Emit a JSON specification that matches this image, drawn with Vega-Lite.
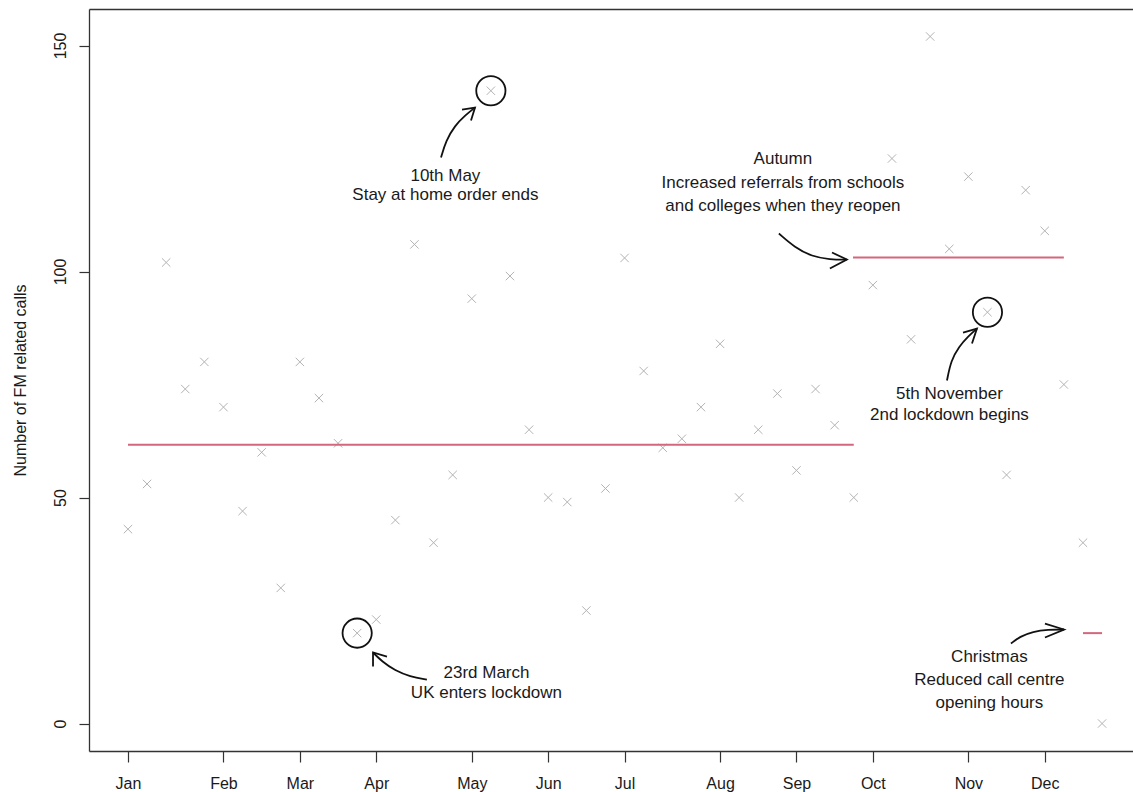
{
  "$schema": "https://vega.github.io/schema/vega-lite/v6.json",
  "width": 1044,
  "height": 742,
  "autosize": {"type": "none"},
  "padding": {"left": 89, "top": 9, "right": 0, "bottom": 41},
  "background": "white",
  "config": {
    "view": {"stroke": null},
    "font": "Liberation Sans",
    "text": {"font": "Liberation Sans"}
  },
  "resolve": {"axis": {"x": "independent"}},
  "datasets": {
    "calls": [
      {"w": 0, "calls": 43}, {"w": 1, "calls": 53}, {"w": 2, "calls": 102}, {"w": 3, "calls": 74},
      {"w": 4, "calls": 80}, {"w": 5, "calls": 70}, {"w": 6, "calls": 47}, {"w": 7, "calls": 60},
      {"w": 8, "calls": 30}, {"w": 9, "calls": 80}, {"w": 10, "calls": 72}, {"w": 11, "calls": 62},
      {"w": 12, "calls": 20}, {"w": 13, "calls": 23}, {"w": 14, "calls": 45}, {"w": 15, "calls": 106},
      {"w": 16, "calls": 40}, {"w": 17, "calls": 55}, {"w": 18, "calls": 94}, {"w": 19, "calls": 140},
      {"w": 20, "calls": 99}, {"w": 21, "calls": 65}, {"w": 22, "calls": 50}, {"w": 23, "calls": 49},
      {"w": 24, "calls": 25}, {"w": 25, "calls": 52}, {"w": 26, "calls": 103}, {"w": 27, "calls": 78},
      {"w": 28, "calls": 61}, {"w": 29, "calls": 63}, {"w": 30, "calls": 70}, {"w": 31, "calls": 84},
      {"w": 32, "calls": 50}, {"w": 33, "calls": 65}, {"w": 34, "calls": 73}, {"w": 35, "calls": 56},
      {"w": 36, "calls": 74}, {"w": 37, "calls": 66}, {"w": 38, "calls": 50}, {"w": 39, "calls": 97},
      {"w": 40, "calls": 125}, {"w": 41, "calls": 85}, {"w": 42, "calls": 152}, {"w": 43, "calls": 105},
      {"w": 44, "calls": 121}, {"w": 45, "calls": 91}, {"w": 46, "calls": 55}, {"w": 47, "calls": 118},
      {"w": 48, "calls": 109}, {"w": 49, "calls": 75}, {"w": 50, "calls": 40}, {"w": 51, "calls": 0}
    ],
    "segments": [
      {"w": 0, "w2": 38, "calls": 61.7},
      {"w": 37.96, "w2": 49, "calls": 103.1},
      {"w": 50, "w2": 51, "calls": 20}
    ],
    "circles": [
      {"w": 19, "calls": 140},
      {"w": 12, "calls": 20},
      {"w": 45, "calls": 91}
    ],
    "labels": [
      {"w": 16.62, "calls": 120.13, "text": "10th May"},
      {"w": 16.62, "calls": 115.93, "text": "Stay at home order ends"},
      {"w": 34.29, "calls": 123.89, "text": "Autumn"},
      {"w": 34.29, "calls": 118.58, "text": "Increased referrals from schools"},
      {"w": 34.29, "calls": 113.5, "text": "and colleges when they reopen"},
      {"w": 43.01, "calls": 71.79, "text": "5th November"},
      {"w": 43.01, "calls": 67.04, "text": "2nd lockdown begins"},
      {"w": 18.77, "calls": 10.18, "text": "23rd March"},
      {"w": 18.77, "calls": 5.75, "text": "UK enters lockdown"},
      {"w": 45.1, "calls": 13.5, "text": "Christmas"},
      {"w": 45.1, "calls": 8.63, "text": "Reduced call centre"},
      {"w": 45.1, "calls": 3.54, "text": "opening hours"}
    ],
    "shafts": [
      {"id": "may", "o": 0, "w": 16.39, "calls": 125.22},
      {"id": "may", "o": 1, "w": 16.65, "calls": 128.98},
      {"id": "may", "o": 2, "w": 17.12, "calls": 132.3},
      {"id": "may", "o": 3, "w": 17.64, "calls": 134.51},
      {"id": "may", "o": 4, "w": 18.17, "calls": 136.28},
      {"id": "mar", "o": 0, "w": 12.83, "calls": 15.71},
      {"id": "mar", "o": 1, "w": 13.3, "calls": 13.72},
      {"id": "mar", "o": 2, "w": 13.98, "calls": 11.73},
      {"id": "mar", "o": 3, "w": 14.76, "calls": 10.4},
      {"id": "mar", "o": 4, "w": 15.65, "calls": 9.73},
      {"id": "aut", "o": 0, "w": 34.08, "calls": 108.41},
      {"id": "aut", "o": 1, "w": 34.92, "calls": 105.31},
      {"id": "aut", "o": 2, "w": 35.81, "calls": 103.32},
      {"id": "aut", "o": 3, "w": 36.75, "calls": 102.65},
      {"id": "aut", "o": 4, "w": 37.64, "calls": 102.65},
      {"id": "nov", "o": 0, "w": 42.88, "calls": 75.88},
      {"id": "nov", "o": 1, "w": 43.09, "calls": 80.31},
      {"id": "nov", "o": 2, "w": 43.51, "calls": 83.41},
      {"id": "nov", "o": 3, "w": 43.98, "calls": 85.62},
      {"id": "nov", "o": 4, "w": 44.45, "calls": 87.39},
      {"id": "xmas", "o": 0, "w": 46.23, "calls": 17.7},
      {"id": "xmas", "o": 1, "w": 46.7, "calls": 19.25},
      {"id": "xmas", "o": 2, "w": 47.38, "calls": 20.35},
      {"id": "xmas", "o": 3, "w": 48.17, "calls": 20.8},
      {"id": "xmas", "o": 4, "w": 49.01, "calls": 20.8}
    ],
    "heads": [
      {"id": "may", "o": 0, "w": 17.49, "calls": 135.84},
      {"id": "may", "o": 1, "w": 18.17, "calls": 136.28},
      {"id": "may", "o": 2, "w": 17.96, "calls": 133.41},
      {"id": "mar", "o": 0, "w": 12.83, "calls": 12.61},
      {"id": "mar", "o": 1, "w": 12.83, "calls": 15.71},
      {"id": "mar", "o": 2, "w": 13.56, "calls": 14.82},
      {"id": "aut", "o": 0, "w": 36.86, "calls": 104.2},
      {"id": "aut", "o": 1, "w": 37.64, "calls": 102.65},
      {"id": "aut", "o": 2, "w": 36.75, "calls": 100.66},
      {"id": "nov", "o": 0, "w": 43.72, "calls": 86.5},
      {"id": "nov", "o": 1, "w": 44.45, "calls": 87.39},
      {"id": "nov", "o": 2, "w": 44.19, "calls": 84.07},
      {"id": "xmas", "o": 0, "w": 48.01, "calls": 22.12},
      {"id": "xmas", "o": 1, "w": 49.01, "calls": 20.8},
      {"id": "xmas", "o": 2, "w": 48.01, "calls": 19.03}
    ]
  },
  "encoding": {
    "x": {
      "field": "w",
      "type": "quantitative",
      "scale": {"domain": [-2.04, 52.62], "nice": false, "zero": false},
      "axis": null
    },
    "y": {
      "field": "calls",
      "type": "quantitative",
      "scale": {"domain": [-6.08, 158.08], "nice": false, "zero": false},
      "axis": {
        "title": "Number of FM related calls",
        "values": [0, 50, 100, 150],
        "grid": false,
        "domain": true,
        "domainColor": "#333333",
        "domainWidth": 1.3,
        "tickColor": "#333333",
        "tickWidth": 1.2,
        "tickSize": 10,
        "labelAngle": 270,
        "labelAlign": "center",
        "labelBaseline": "alphabetic",
        "labelPadding": 14,
        "labelFont": "Liberation Sans",
        "labelFontSize": 16,
        "labelColor": "#1a1a1a",
        "titleFont": "Liberation Sans",
        "titleFontSize": 16,
        "titleFontWeight": "normal",
        "titleColor": "#1a1a1a",
        "titleAngle": 270,
        "titleAlign": "center",
        "titleBaseline": "alphabetic",
        "titleX": -64,
        "titleY": 371
      }
    }
  },
  "layer": [
    {
      "data": {"name": "calls"},
      "mark": {"type": "point", "shape": "M-1,-1L1,1M-1,1L1,-1", "filled": false, "size": 70, "strokeWidth": 1, "opacity": 1},
      "encoding": {
        "color": {"value": "#b3b3b3"},
        "x": {
          "field": "w",
          "type": "quantitative",
          "axis": {
            "orient": "bottom",
            "title": null,
            "values": [0, 5, 9, 13, 18, 22, 26, 31, 35, 39, 44, 48],
            "labelExpr": "['Jan','Feb','Mar','Apr','May','Jun','Jul','Aug','Sep','Oct','Nov','Dec'][indexof([0,5,9,13,18,22,26,31,35,39,44,48], datum.value)]",
            "grid": false,
            "domain": true,
            "domainColor": "#333333",
            "domainWidth": 1.3,
            "ticks": true,
            "tickColor": "#333333",
            "tickWidth": 1.2,
            "tickSize": 11,
            "labelPadding": 13,
            "labelFont": "Liberation Sans",
            "labelFontSize": 16,
            "labelColor": "#1a1a1a",
            "labelFlush": false,
            "labelOverlap": false
          }
        }
      }
    },
    {
      "data": {"name": "segments"},
      "mark": {"type": "rule", "color": "#d4677d", "strokeWidth": 2},
      "encoding": {"x2": {"field": "w2"}}
    },
    {
      "data": {"name": "circles"},
      "mark": {"type": "point", "shape": "circle", "filled": false, "size": 855, "strokeWidth": 1.8, "color": "#111111", "opacity": 1}
    },
    {
      "data": {"name": "shafts"},
      "mark": {"type": "line", "interpolate": "basis", "color": "#111111", "strokeWidth": 1.8},
      "encoding": {"detail": {"field": "id"}, "order": {"field": "o"}}
    },
    {
      "data": {"name": "heads"},
      "mark": {"type": "line", "color": "#111111", "strokeWidth": 1.8, "strokeJoin": "miter"},
      "encoding": {"detail": {"field": "id"}, "order": {"field": "o"}}
    },
    {
      "data": {"name": "labels"},
      "mark": {"type": "text", "font": "Liberation Sans", "fontSize": 17, "align": "center", "baseline": "alphabetic", "color": "#1a1a1a"},
      "encoding": {
        "text": {"field": "text"},
        "x": {
          "field": "w",
          "type": "quantitative",
          "axis": {"orient": "top", "title": null, "labels": false, "ticks": false, "grid": false, "domain": true, "domainColor": "#333333", "domainWidth": 1.3}
        }
      }
    }
  ]
}
